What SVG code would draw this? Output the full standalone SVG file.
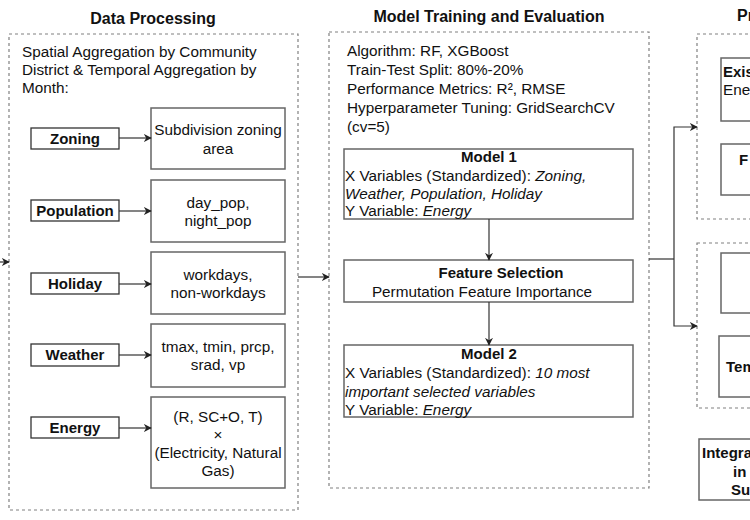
<svg xmlns="http://www.w3.org/2000/svg" width="750" height="520" viewBox="0 0 750 520">
<defs>
<marker id="arr" viewBox="0 0 10 10" refX="9" refY="5" markerWidth="8" markerHeight="8" markerUnits="userSpaceOnUse" orient="auto">
<path d="M0,0 L10,5 L0,10 L3,5 Z" fill="#222"/>
</marker>
</defs>
<style>
text{font-family:"Liberation Sans",Arial,sans-serif;fill:#111;}
.t{font-size:16px;font-weight:bold;}
.r{font-size:15.3px;}
.b{font-size:15px;font-weight:bold;}
.i{font-style:italic;}
.m{text-anchor:middle;}
.grp{fill:none;stroke:#808080;stroke-width:1.2;stroke-dasharray:3 3;}
.lab{fill:#fff;stroke:#333;stroke-width:1.3;}
.box{fill:#fff;stroke:#666;stroke-width:1.5;}
.con{fill:none;stroke:#333;stroke-width:1.2;}
</style>
<rect width="750" height="520" fill="#fff"/>

<g id="titles">
<text class="t m" x="153" y="24">Data Processing</text>
<text class="t m" x="489" y="22">Model Training and Evaluation</text>
<text class="t" x="737" y="21">Pr</text>
</g>

<g id="data-processing">
<rect class="grp" x="9" y="34" width="289" height="476"/>
<text class="r" x="22" y="57">Spatial Aggregation by Community</text>
<text class="r" x="22" y="75">District &amp; Temporal Aggregation by</text>
<text class="r" x="22" y="93">Month:</text>
</g>

<g id="zoning">
<rect class="lab" x="31" y="128" width="88" height="21"/>
<text class="b m" x="75" y="144">Zoning</text>
</g>
<g id="zoning-out">
<rect class="box" x="151" y="108" width="134" height="61"/>
<text class="r m" x="218" y="135">Subdivision zoning</text>
<text class="r m" x="218" y="154">area</text>
</g>
<g id="population">
<rect class="lab" x="31" y="200" width="88" height="21"/>
<text class="b m" x="75" y="216">Population</text>
</g>
<g id="population-out">
<rect class="box" x="151" y="180" width="134" height="62"/>
<text class="r m" x="218" y="208">day_pop,</text>
<text class="r m" x="218" y="226">night_pop</text>
</g>
<g id="holiday">
<rect class="lab" x="31" y="273" width="88" height="21"/>
<text class="b m" x="75" y="289">Holiday</text>
</g>
<g id="holiday-out">
<rect class="box" x="151" y="252" width="134" height="62"/>
<text class="r m" x="218" y="280">workdays,</text>
<text class="r m" x="218" y="298">non-workdays</text>
</g>
<g id="weather">
<rect class="lab" x="31" y="344" width="88" height="22"/>
<text class="b m" x="75" y="360">Weather</text>
</g>
<g id="weather-out">
<rect class="box" x="151" y="324" width="134" height="63"/>
<text class="r m" x="218" y="352">tmax, tmin, prcp,</text>
<text class="r m" x="218" y="370">srad, vp</text>
</g>
<g id="energy">
<rect class="lab" x="31" y="417" width="88" height="21"/>
<text class="b m" x="75" y="433">Energy</text>
</g>
<g id="energy-out">
<rect class="box" x="151" y="397" width="134" height="91"/>
<text class="r m" x="218" y="422">(R, SC+O, T)</text>
<text class="r m" x="218" y="440">×</text>
<text class="r m" x="218" y="458">(Electricity, Natural</text>
<text class="r m" x="218" y="476">Gas)</text>
</g>

<g id="model-training">
<rect class="grp" x="329" y="32" width="320" height="456"/>
<text class="r" x="347" y="56">Algorithm: RF, XGBoost</text>
<text class="r" x="347" y="75">Train-Test Split: 80%-20%</text>
<text class="r" x="347" y="94">Performance Metrics: R², RMSE</text>
<text class="r" x="347" y="113">Hyperparameter Tuning: GridSearchCV</text>
<text class="r" x="347" y="132">(cv=5)</text>
</g>
<g id="model1">
<rect class="box" x="344" y="149" width="289" height="70"/>
<text class="b m" x="489" y="162">Model 1</text>
<text class="r" x="345" y="181"> X Variables (Standardized): <tspan class="i">Zoning,</tspan></text>
<text class="r i" x="345" y="199">Weather, Population, Holiday</text>
<text class="r" x="345" y="216">Y Variable: <tspan class="i">Energy</tspan></text>
</g>
<g id="feature-selection">
<rect class="box" x="344" y="260" width="289" height="42"/>
<text class="b m" x="501" y="278">Feature Selection</text>
<text class="r m" x="482" y="297">Permutation Feature Importance</text>
</g>
<g id="model2">
<rect class="box" x="344" y="345" width="289" height="72"/>
<text class="b m" x="489" y="359">Model 2</text>
<text class="r" x="345" y="378">X Variables (Standardized): <tspan class="i">10 most</tspan></text>
<text class="r i" x="345" y="397">important selected variables</text>
<text class="r" x="345" y="415">Y Variable: <tspan class="i">Energy</tspan></text>
</g>

<g id="prediction-1">
<rect class="grp" x="697" y="34" width="100" height="185"/>
</g>
<g id="existing">
<rect class="box" x="721" y="58" width="60" height="63"/>
<text class="b" x="723" y="77">Exis</text>
<text class="r" x="723" y="95">Ene</text>
</g>
<g id="f-box">
<rect class="box" x="721" y="144" width="60" height="51"/>
<text class="b" x="739" y="165">F</text>
</g>
<g id="prediction-2">
<rect class="grp" x="697" y="243" width="100" height="165"/>
</g>
<g id="box3">
<rect class="box" x="721" y="253" width="60" height="60"/>
</g>
<g id="tem-box">
<rect class="box" x="719" y="336" width="60" height="61"/>
<text class="b" x="726" y="372">Tem</text>
</g>
<g id="integrated">
<rect class="box" x="699" y="439" width="80" height="61"/>
<text class="b" x="702" y="458">Integra</text>
<text class="b" x="733" y="477">in</text>
<text class="b" x="731" y="495">Su</text>
</g>

<g id="connectors">
<line class="con" x1="0" y1="262" x2="9" y2="262" marker-end="url(#arr)"/>
<line class="con" x1="119" y1="138" x2="151" y2="138" marker-end="url(#arr)"/>
<line class="con" x1="119" y1="211" x2="151" y2="211" marker-end="url(#arr)"/>
<line class="con" x1="119" y1="284" x2="151" y2="284" marker-end="url(#arr)"/>
<line class="con" x1="119" y1="355" x2="151" y2="355" marker-end="url(#arr)"/>
<line class="con" x1="119" y1="428" x2="151" y2="428" marker-end="url(#arr)"/>
<line class="con" x1="298" y1="277" x2="329" y2="277" marker-end="url(#arr)"/>
<line class="con" x1="489" y1="219" x2="489" y2="260" marker-end="url(#arr)"/>
<line class="con" x1="489" y1="302" x2="489" y2="345" marker-end="url(#arr)"/>
<path class="con" d="M649,259 H674"/>
<path class="con" d="M674,259 V127 H697" marker-end="url(#arr)"/>
<path class="con" d="M674,259 V326 H697" marker-end="url(#arr)"/>
</g>
</svg>
